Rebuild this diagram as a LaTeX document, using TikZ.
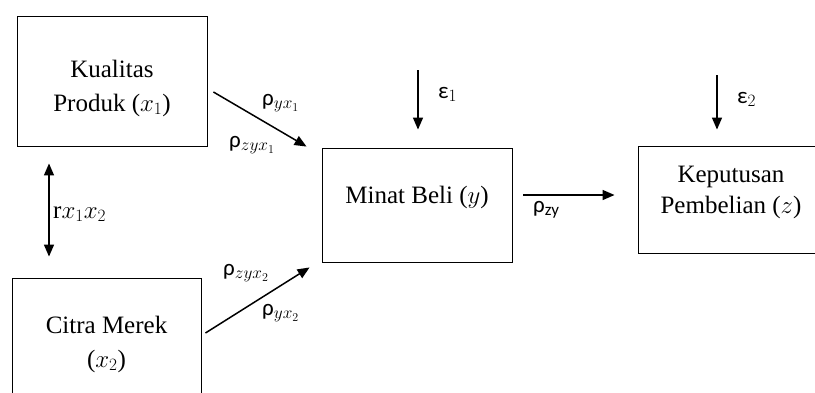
\documentclass[tikz,border=0pt]{standalone}
\usepackage{fontspec}
\setmainfont{Liberation Serif}
\newfontfamily\grk{Carlito}
\usetikzlibrary{arrows.meta}

\begin{document}
\begin{tikzpicture}[x=1pt, y=-1pt,
    font=\fontsize{25}{34}\selectfont,
    varbox/.style={draw, line width=0.9pt, align=center, inner sep=0pt},
    arr/.style={-{Triangle[length=12pt,width=10pt]}, line width=1.5pt},
    lbl/.style={inner sep=0pt, anchor=base west}]

\newcommand\rh{{\fontsize{23}{25}\grk ρ}}
\newcommand\ep{{\fontsize{23}{25}\grk ε}}

\clip (0,0) rectangle (815,392);

% ── Kotak variabel ──────────────────────────────────────────
\node[varbox, minimum width=190pt, minimum height=130pt, text height=66pt, text depth=6pt]
    (kp) at (112,81) {Kualitas\\Produk ($x_1$)};
\node[varbox, minimum width=189pt, minimum height=138pt, text height=46pt, text depth=6pt]
    (cm) at (106.5,347) {Citra Merek\\($x_2$)};
\node[varbox, minimum width=190pt, minimum height=114pt, text height=17pt, text depth=21pt]
    (mb) at (417,205) {Minat Beli ($y$)};
\node[varbox, minimum width=186pt, minimum height=107pt, text height=33pt, text depth=6pt,
      font=\fontsize{25}{31}\selectfont]
    (kpt) at (731,199.5) {Keputusan\\Pembelian ($z$)};

% ── Titik awal error ────────────────────────────────────────
\coordinate (e1) at (418,70);
\coordinate (e2) at (717,75);

% ── Panah jalur ─────────────────────────────────────────────
\draw[arr] ([xshift=6pt,yshift=-11pt]kp.east) -- ([xshift=-15pt,yshift=1pt]mb.north west);
\draw[arr] ([xshift=4pt,yshift=14pt]cm.east) -- ([xshift=-12pt,yshift=-5pt]mb.south west);
\draw[arr] ([xshift=11pt,yshift=10pt]mb.east) -- ([xshift=-23pt,yshift=4.5pt]kpt.west);
\draw[arr, {Triangle[length=12pt,width=10pt]}-{Triangle[length=12pt,width=10pt]}]
    ([xshift=-63pt,yshift=-17pt]kp.south) -- ([xshift=-57.5pt,yshift=21pt]cm.north);
\draw[arr] (e1) -- ([xshift=1pt,yshift=18pt]mb.north);
\draw[arr] (e2) -- ([xshift=-14pt,yshift=16pt]kpt.north);

% ── Label koefisien ─────────────────────────────────────────
\node[lbl] (p1) at (262,105) {\rh$_{yx_1}$};
\node[lbl] (p2) at (229,147) {\rh$_{zyx_1}$};
\node[lbl] (p3) at (223,275) {\rh$_{zyx_2}$};
\node[lbl] (p4) at (262,315) {\rh$_{yx_2}$};
\node[lbl] (r)  at (53,218)  {r$x_1x_2$};
\node[lbl] (s1) at (438,98)  {\ep$_1$};
\node[lbl] (s2) at (737,103) {\ep$_2$};
\node[lbl] (pz) at (533,212) {\rh$_{\mbox{\fontsize{17}{19}\grk zy}}$};

\end{tikzpicture}
\end{document}
